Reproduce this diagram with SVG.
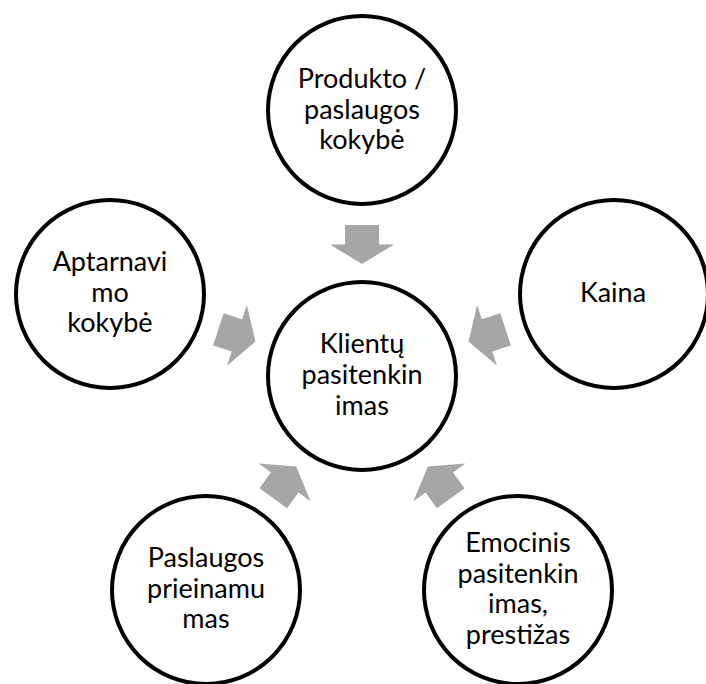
<svg xmlns="http://www.w3.org/2000/svg" width="706" height="684" viewBox="0 0 706 684">
<defs>
<style>
.c{fill:#fff;stroke:#000;stroke-width:4}
.t{font-family:Lato,"Open Sans","Liberation Sans",sans-serif;font-size:27px;fill:#000;text-anchor:middle}
.a{fill:#a6a6a6}
</style>
<polygon id="arr" class="a" points="-17,-19.5 17,-19.5 17,0 32,0 0,19.5 -32,0 -17,0"/>
</defs>
<rect width="706" height="684" fill="#fff"/>
<g id="connectors">
<use href="#arr" transform="translate(362,376) rotate(0) translate(0,-131.5)"/>
<use href="#arr" transform="translate(362,376) rotate(72) translate(0,-131.5)"/>
<use href="#arr" transform="translate(362,376) rotate(144) translate(0,-131.5)"/>
<use href="#arr" transform="translate(362,376) rotate(216) translate(0,-131.5)"/>
<use href="#arr" transform="translate(362,376) rotate(288) translate(0,-131.5)"/>
</g>
<g id="center">
<circle class="c" cx="362" cy="376" r="94"/>
<text class="t" x="362" y="353">Klientų</text>
<text class="t" x="362" y="384">pasitenkin</text>
<text class="t" x="362" y="414.5">imas</text>
</g>
<g id="top">
<circle class="c" cx="362" cy="110" r="94"/>
<text class="t" x="362" y="88">Produkto /</text>
<text class="t" x="362" y="118.5">paslaugos</text>
<text class="t" x="362" y="149">kokybė</text>
</g>
<g id="right">
<circle class="c" cx="614" cy="294" r="94"/>
<text class="t" x="613" y="302">Kaina</text>
</g>
<g id="bottom-right">
<circle class="c" cx="518" cy="590" r="94"/>
<text class="t" x="518" y="552">Emocinis</text>
<text class="t" x="518" y="582.5">pasitenkin</text>
<text class="t" x="518" y="613">imas,</text>
<text class="t" x="518" y="643.5">prestižas</text>
</g>
<g id="bottom-left">
<circle class="c" cx="206" cy="590" r="94"/>
<text class="t" x="206" y="567">Paslaugos</text>
<text class="t" x="206" y="597.5">prieinamu</text>
<text class="t" x="206" y="628">mas</text>
</g>
<g id="left">
<circle class="c" cx="110" cy="294" r="94"/>
<text class="t" x="110" y="271">Aptarnavi</text>
<text class="t" x="110" y="301.5">mo</text>
<text class="t" x="110" y="332">kokybė</text>
</g>
</svg>
